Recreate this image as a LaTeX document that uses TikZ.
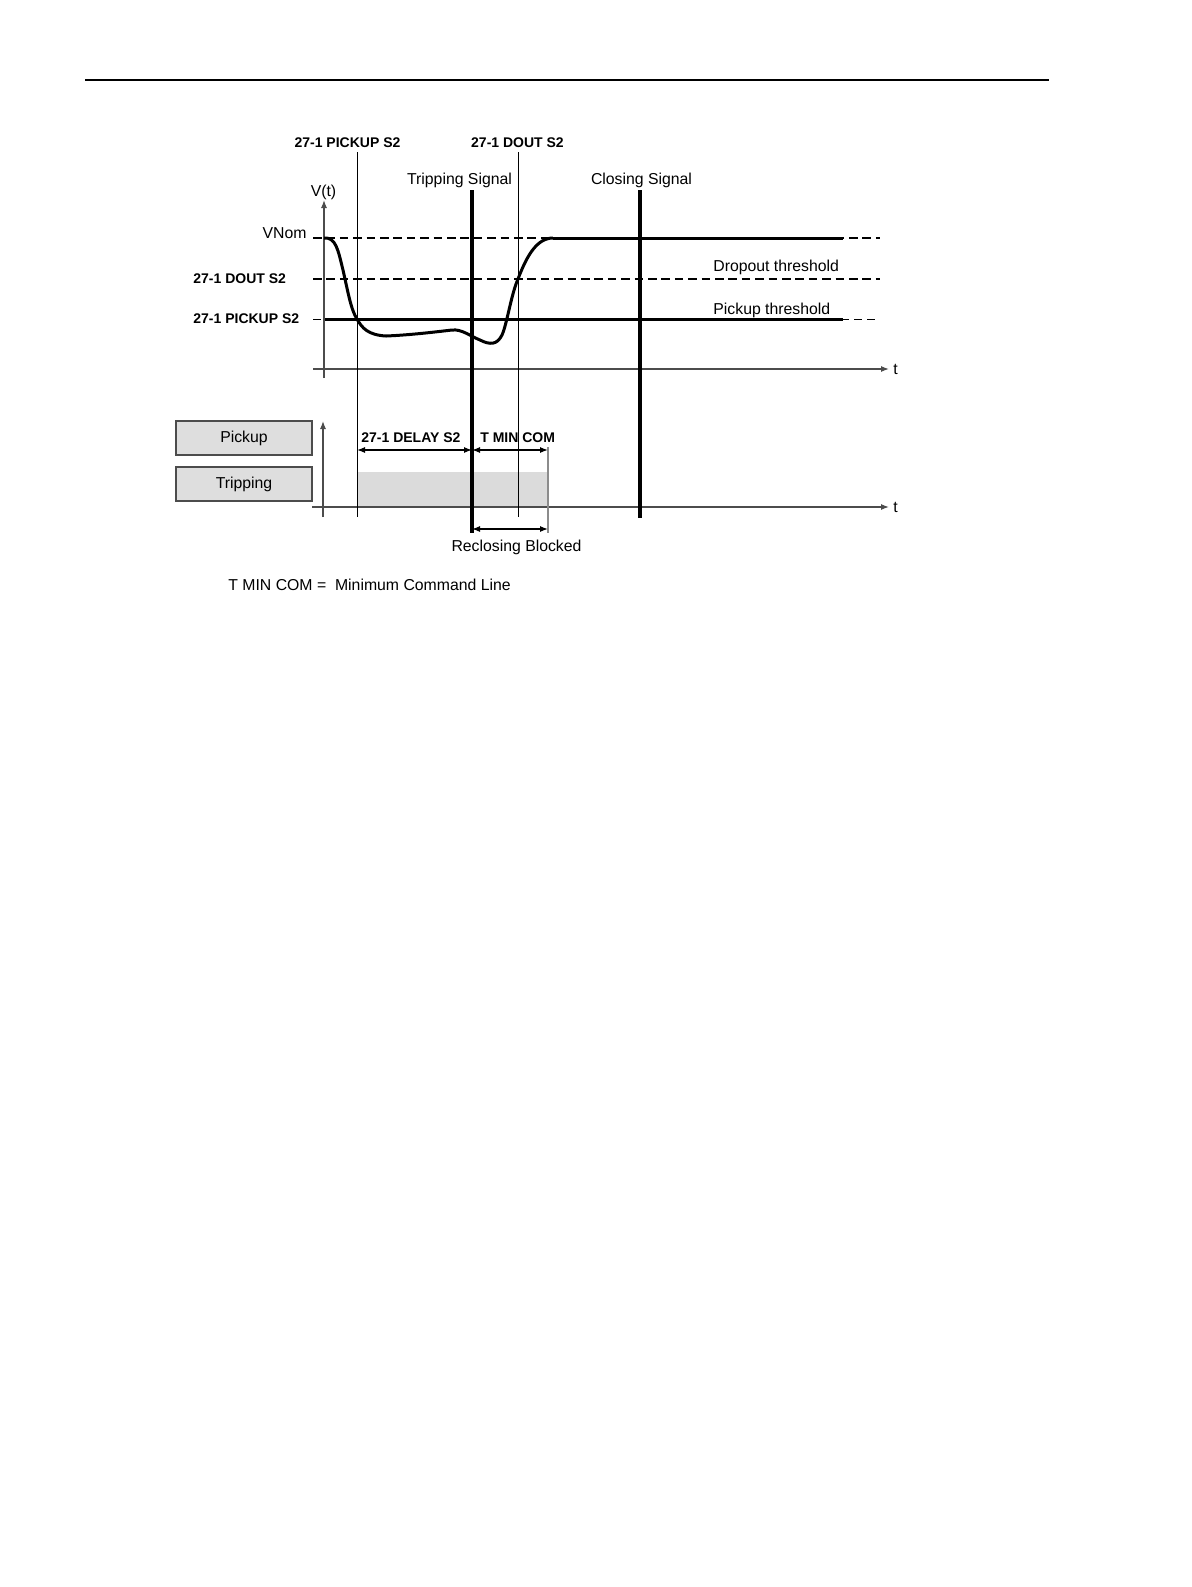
\documentclass[tikz,border=0pt]{standalone}
\usepackage{fontspec}
\setmainfont{Liberation Sans}
\usetikzlibrary{arrows.meta}
\begin{document}
\begin{tikzpicture}[x=0.5pt,y=-0.5pt,
  lbl/.style={inner sep=0pt,font=\fontsize{7.9}{9}\selectfont},
  blbl/.style={inner sep=0pt,font=\fontsize{7}{8}\selectfont\bfseries},
  thinv/.style={line width=0.5pt,black},
  sigline/.style={line width=2.3pt,black},
  thickh/.style={line width=1.5pt,black},
  dsh/.style={line width=0.6pt,dash pattern=on 4.3pt off 2.4pt},
  dshs/.style={line width=0.5pt,dash pattern=on 3.8pt off 2.8pt},
  ax/.style={line width=0.6pt,black!70,-{Latex[length=4pt,width=3pt]}},
  dim/.style={line width=0.6pt,{Latex[length=4pt,width=3pt]}-{Latex[length=4pt,width=3pt]}},
  sbox/.style={draw=black!70,fill=black!13,line width=0.6pt,minimum width=68pt,minimum height=17pt,inner sep=0pt,font=\fontsize{7.9}{9}\selectfont}
]
\useasboundingbox (0,0) rectangle (1191,1587);
% header rule
\coordinate (hl) at (85,80); \coordinate (hr) at (1049,80);
\draw[line width=0.8pt] (hl) -- (hr);

% coordinates
\coordinate (pkT) at (357,152); \coordinate (pkB) at (357,517);
\coordinate (doT) at (518,152); \coordinate (doB) at (518,517);
\coordinate (trT) at (472,190); \coordinate (trB) at (472,533);
\coordinate (clT) at (640,190); \coordinate (clB) at (640,518);
\coordinate (yaB) at (324,378); \coordinate (yaT) at (324,200);
\coordinate (taL) at (313,369); \coordinate (taR) at (889,369);
\coordinate (ybB) at (323,517); \coordinate (ybT) at (323,421);
\coordinate (tbL) at (312,507); \coordinate (tbR) at (889,507);

% gray bar
\fill[black!14] (357,472) rectangle (548,507);

% dashed levels
\draw[dsh] (313,238) -- (880,238);
\draw[dsh] (313,279) -- (880,279);
\draw[dshs] (313,319) -- (880,319);
\draw[thickh] (324,319) -- (843,319);
\draw[thickh] (553,238) -- (843,238);

% axes
\draw[ax] (yaB) -- (yaT);
\draw[ax] (taL) -- (taR);
\draw[ax] (ybB) -- (ybT);
\draw[ax] (tbL) -- (tbR);

% thin verticals
\draw[thinv] (pkT) -- (pkB);
\draw[thinv] (doT) -- (doB);
\coordinate (gT) at (548,447); \coordinate (gB) at (548,533);
\draw[line width=0.6pt,black!45] (gT) -- (gB);

% signal lines
\draw[sigline] (trT) -- (trB);
\draw[sigline] (clT) -- (clB);

% voltage curve
\draw[line width=1.5pt,line join=round]
 (324,238) .. controls (336,237) and (338,250) .. (343,270)
 .. controls (348,292) and (351,310) .. (357,319)
 .. controls (362,328) and (368,335) .. (386,336)
 .. controls (410,335) and (435,332) .. (452,330)
 .. controls (462,329) and (470,336) .. (480,340)
 .. controls (490,345) and (497,345) .. (502,335)
 .. controls (507,324) and (511,295) .. (518,279)
 .. controls (526,258) and (536,238) .. (553,238);

% dimension arrows
\coordinate (d1a) at (357,450); \coordinate (d1b) at (472,450); \coordinate (d2b) at (548,450);
\coordinate (r1) at (472,529); \coordinate (r2) at (548,529);
\draw[dim] (d1a) -- (d1b);
\draw[dim] (d1b) -- (d2b);
\draw[dim] (r1) -- (r2);

% texts
\node[blbl,anchor=base] (tpk) at (347.5,147) {27-1 PICKUP S2};
\node[blbl,anchor=base] (tdo) at (517.5,147) {27-1 DOUT S2};
\node[lbl,anchor=base] (trs) at (459.5,184) {Tripping Signal};
\node[lbl,anchor=base] (cls) at (641.5,184) {Closing Signal};
\node[lbl,anchor=base] (vt) at (323.5,196) {V(t)};
\node[lbl,anchor=base east] (vnom) at (307,238) {VNom};
\node[blbl,anchor=base west] (ldo) at (193,283) {27-1 DOUT S2};
\node[blbl,anchor=base west] (lpk) at (193,323) {27-1 PICKUP S2};
\node[lbl,anchor=base west] (dth) at (713,271.5) {Dropout threshold};
\node[lbl,anchor=base west] (pth) at (713,314.5) {Pickup threshold};
\node[lbl,anchor=west] (t1) at (893,369) {t};
\node[lbl,anchor=west] (t2) at (893,507) {t};
\node[sbox] (bpk) at (244,438) {Pickup};
\node[sbox] (btr) at (244,484) {Tripping};
\node[blbl,anchor=base west] (dly) at (361,442.3) {27-1 DELAY S2};
\node[blbl,anchor=base west] (tmc) at (480,442.3) {T MIN COM};
\node[lbl,anchor=base] (rcb) at (516.5,551.7) {Reclosing Blocked};
\node[lbl,anchor=base west] (fn) at (228,590) {T MIN COM =\ \ Minimum Command Line};
\end{tikzpicture}
\end{document}
